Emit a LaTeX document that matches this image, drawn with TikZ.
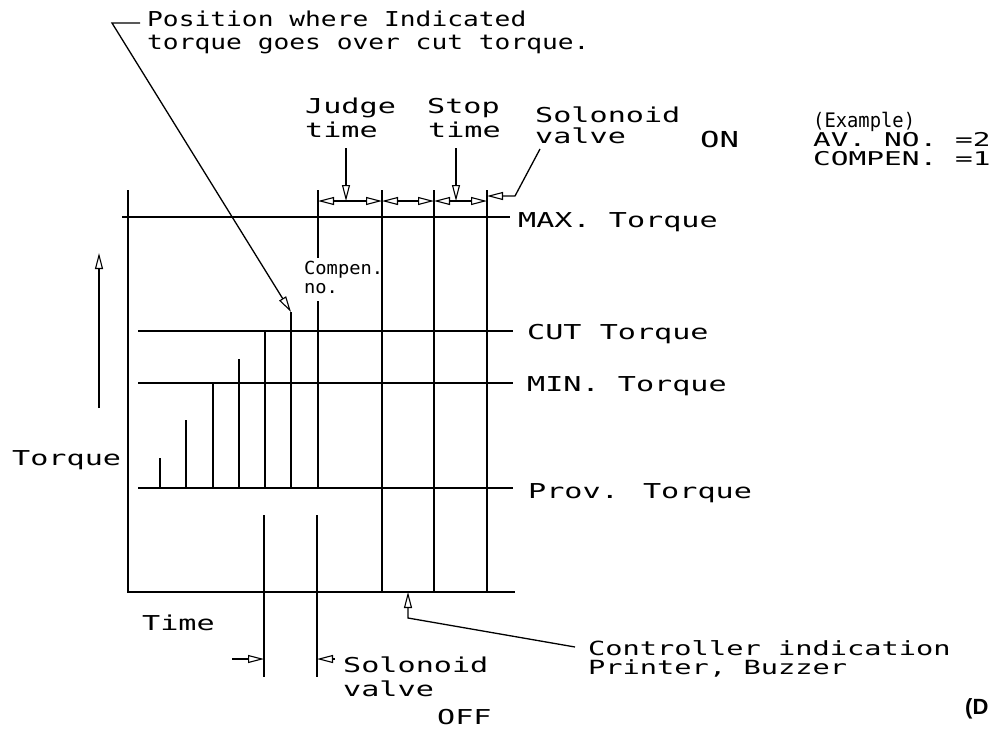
\documentclass[tikz,border=0pt]{standalone}
\usepackage{fontspec}
\usetikzlibrary{arrows.meta}
\setmainfont{DejaVu Sans Mono}
% stroke-like lettering at several widths
\newfontfamily\cadtop{DejaVu Sans Mono}[FakeStretch=1.28]
\newfontfamily\cadtxt{DejaVu Sans Mono}[FakeStretch=1.47]
\newfontfamily\cadwide{DejaVu Sans Mono}[FakeStretch=1.55]
\newfontfamily\cadnarrow{DejaVu Sans Mono}[FakeStretch=0.94]
\newfontfamily\cadsmall{DejaVu Sans Mono}[FakeStretch=1.04]
\newfontfamily\dwgfont{Liberation Sans}

\tikzset{
  cadline/.style={line width=1.3pt, line cap=butt},
  axisline/.style={line width=1.6pt},
  levelline/.style={line width=2pt},
  otip/.tip={Triangle[open, length=16pt, width=8pt, line width=1.1pt]},
  leader/.style={cadline, -otip},
  dimline/.style={cadline, otip-otip},
  lbl/.style={inner sep=0pt, anchor=base west, font=\cadtxt\fontsize{20.5}{24}\selectfont},
  toplbl/.style={lbl, font=\cadtop\fontsize{20.5}{24}\selectfont},
  exlbl/.style={lbl, font=\cadnarrow\fontsize{20}{20}\selectfont},
  exvalue/.style={lbl, font=\cadwide\fontsize{19}{20}\selectfont},
  smalllbl/.style={lbl, font=\cadsmall\fontsize{18}{20}\selectfont},
  notelbl/.style={lbl, font=\cadtxt\fontsize{19.5}{20}\selectfont},
  onlbl/.style={lbl, font=\cadtxt\fontsize{22}{24}\selectfont}
}

\begin{document}
\begin{tikzpicture}[x=1pt, y=-1pt]
\useasboundingbox (0,0) rectangle (995,728);

% ---- axes ----
\coordinate (axTop) at (128,190);
\coordinate (origin) at (128,592);
\coordinate (axEnd) at (515,592);
\draw[axisline] (axTop) -- (origin) -- (axEnd);

% ---- torque levels ----
\coordinate (maxL) at (122,217);  \coordinate (maxR) at (510,217);
\coordinate (cutL) at (138,331);  \coordinate (cutR) at (513,331);
\coordinate (minL) at (138,383);  \coordinate (minR) at (513,383);
\coordinate (provL) at (138,488); \coordinate (provR) at (513,488);
\draw[cadline] (maxL) -- (maxR);
\draw[levelline] (cutL) -- (cutR);
\draw[levelline] (minL) -- (minR);
\draw[levelline] (provL) -- (provR);
\node[lbl] (maxlbl) at (518,227) {MAX. Torque};
\node[lbl] (cutlbl) at (527,339) {CUT Torque};
\node[lbl] (minlbl) at (527,391) {MIN. Torque};
\node[lbl] (provlbl) at (528,498) {Prov. Torque};

% ---- sampled torque values ----
\foreach \x/\y [count=\i] in {160/458, 186/420, 213/383, 239/359, 265/331, 291/312, 318/301}{
  \coordinate (bar\i) at (\x,\y);
  \coordinate (base\i) at (\x,488);
  \draw[cadline] (bar\i) -- (base\i);
}

% ---- time marks ----
\coordinate (t1top) at (318,190); \coordinate (t1mid) at (318,258);
\coordinate (t2top) at (382,190); \coordinate (t2bot) at (382,592);
\coordinate (t3top) at (434,190); \coordinate (t3bot) at (434,592);
\coordinate (t4top) at (487,190); \coordinate (t4bot) at (487,592);
\draw[cadline] (t1top) -- (t1mid);
\draw[cadline] (t2top) -- (t2bot);
\draw[cadline] (t3top) -- (t3bot);
\draw[cadline] (t4top) -- (t4bot);

\coordinate (offA) at (264,515); \coordinate (offAb) at (264,677);
\coordinate (offB) at (317,515); \coordinate (offBb) at (317,677);
\draw[cadline] (offA) -- (offAb);
\draw[cadline] (offB) -- (offBb);

% ---- dimension chain ----
\coordinate (d1) at (318,201); \coordinate (d2) at (382,201);
\coordinate (d3) at (434,201); \coordinate (d4) at (487,201);
\draw[dimline] (d1) -- (d2);
\draw[dimline] (d2) -- (d3);
\draw[dimline] (d3) -- (d4);

\node[lbl] (judge) at (305,113) {Judge};
\node[lbl] (judge2) at (305,137) {time};
\node[lbl] (stop) at (427,113) {Stop};
\node[lbl] (stop2) at (428,137) {time};
\coordinate (judgeArr) at (346,148); \coordinate (judgeTip) at (346,201);
\coordinate (stopArr) at (456,148);  \coordinate (stopTip) at (456,201);
\draw[leader] (judgeArr) -- (judgeTip);
\draw[leader] (stopArr) -- (stopTip);

% solenoid valve ON
\node[lbl] (solon) at (535,122) {Solonoid};
\node[lbl] (solon2) at (535,143) {valve};
\coordinate (solonA) at (540,149); \coordinate (solonB) at (515,196);
\coordinate (solonTip) at (487,196);
\draw[leader] (solonA) -- (solonB) -- (solonTip);
\node[onlbl] (on) at (700,147) {ON};

% example values
\node[exlbl] (ex1) at (813,127) {(Example)};
\node[exvalue] (ex2) at (813,146) {AV. NO. =2};
\node[exvalue] (ex3) at (813,165) {COMPEN. =1};

% compensation label
\node[smalllbl] (comp1) at (304,274) {Compen.};
\node[smalllbl] (comp2) at (304,293) {no.};

% position where torque exceeds cut torque
\node[toplbl] (pos1) at (147,27) {Position where Indicated};
\node[toplbl] (pos2) at (147,49) {torque goes over cut torque.};
\coordinate (posA) at (140,23); \coordinate (posB) at (112,23);
\draw[leader] (posA) -- (posB) -- (bar6);

% torque axis arrow
\coordinate (tqA) at (99,408); \coordinate (tqB) at (99,253);
\draw[leader] (tqA) -- (tqB);
\node[lbl] (torque) at (12,465) {Torque};
\node[lbl] (time) at (142,630) {Time};

% solenoid valve OFF
\coordinate (offArrA) at (232,659); \coordinate (offArrATip) at (264,659);
\coordinate (offArrB) at (335,659); \coordinate (offArrBTip) at (317,659);
\draw[leader] (offArrA) -- (offArrATip);
\draw[leader] (offArrB) -- (offArrBTip);
\node[lbl] (soloff) at (343,672) {Solonoid};
\node[lbl] (soloff2) at (343,696) {valve};
\node[lbl] (off) at (437,724) {OFF};

% controller indication
\coordinate (ctlTip) at (408,592); \coordinate (ctlA) at (408,618);
\coordinate (ctlB) at (575,647);
\draw[leader] (ctlB) -- (ctlA) -- (ctlTip);
\node[notelbl] (ctl1) at (588,655) {Controller indication};
\node[notelbl] (ctl2) at (588,674) {Printer, Buzzer};

\node[inner sep=0pt, anchor=base west, font=\dwgfont\bfseries\fontsize{22}{24}\selectfont] (dwg) at (965,714) {(D};
\end{tikzpicture}
\end{document}
